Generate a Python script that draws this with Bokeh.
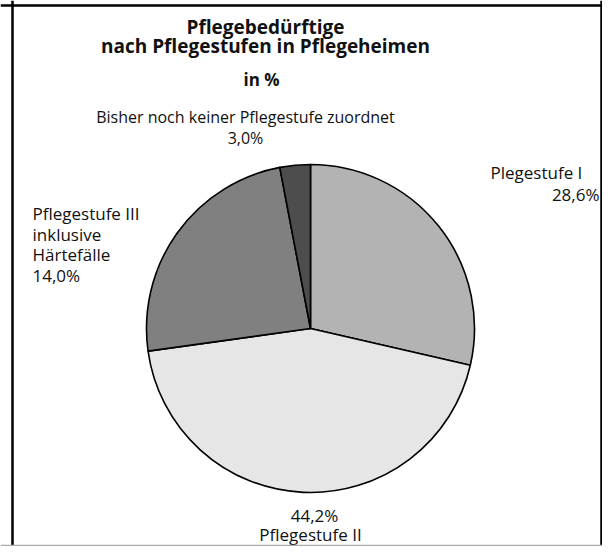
import math
from bokeh.plotting import figure
from bokeh.models import Range1d, Span, ColumnDataSource
from bokeh.core.properties import value
from bokeh.embed import file_html
from bokeh.resources import INLINE

# ---- data ----
categories = ["Plegestufe I", "Pflegestufe II", "Pflegestufe III inklusive Härtefälle",
              "Bisher noch keiner Pflegestufe zuordnet"]
shares = [28.6, 44.2, 24.2, 3.0]          # drawn slice sizes (%)
share_labels = ["28,6%", "44,2%", "14,0%", "3,0%"]  # printed labels
colors = ["#b3b3b3", "#e6e6e6", "#808080", "#4d4d4d"]

title_lines = ["Pflegebedürftige", "nach Pflegestufen in Pflegeheimen"]
subtitle = "in\u00a0%"

W, H = 602, 546
FONT = "Open Sans"
DY = 6  # baseline correction

p = figure(width=W, height=H, output_backend="svg", toolbar_location=None,
           x_range=Range1d(0, W), y_range=Range1d(0, H), min_border=0)
p.axis.visible = False
p.grid.visible = False
p.outline_line_color = None
p.background_fill_color = "white"
p.border_fill_color = "white"

# ---- pie ----
total = sum(shares)
starts, ends = [], []
cum = 0.0
for s in shares:
    starts.append(math.pi / 2 - 2 * math.pi * cum / total)
    cum += s
    ends.append(math.pi / 2 - 2 * math.pi * cum / total)

src = ColumnDataSource(dict(start=starts, end=ends, color=colors, cat=categories))
p.wedge(x=310, y=218, radius=164, start_angle="start", end_angle="end",
        direction="clock", fill_color="color", line_color="black", line_width=1.6,
        source=src)

# ---- texts ----
def txt(x, y, s, align="left", size="17px", style="normal"):
    p.text(x=[x], y=[y + DY], text=[s], text_font=value(FONT), text_font_size=size,
           text_align=align, text_baseline="alphabetic", text_color="#111111",
           text_font_style=style)

txt(265, 514, title_lines[0], "center", "19px", "bold")
txt(265, 495, title_lines[1], "center", "19px", "bold")
txt(261, 461, subtitle, "center", "17px", "bold")

# Bisher noch keiner ...
txt(245, 424, categories[3], "center", "16px")
txt(245, 403, share_labels[3], "center", "16px")
# Stufe I
txt(490, 368, categories[0], "left")
txt(599, 346, share_labels[0], "right")
# Stufe III
for i, s in enumerate(["Pflegestufe III", "inklusive", "Härtefälle", share_labels[2]]):
    txt(32, 327 - i * 20.5, s, "left")
# Stufe II
txt(314, 25, share_labels[1], "center")
txt(310, 6, categories[1], "center")

# ---- frame ----
p.add_layout(Span(location=12, dimension="height", line_color="black", line_width=2.5))
p.add_layout(Span(location=601, dimension="height", line_color="black", line_width=2.5))
p.add_layout(Span(location=541, dimension="width", line_color="black", line_width=2.5))
p.add_layout(Span(location=1, dimension="width", line_color="#aaaaaa", line_width=1.5))

open("out.html", "w").write(file_html(p, INLINE))
